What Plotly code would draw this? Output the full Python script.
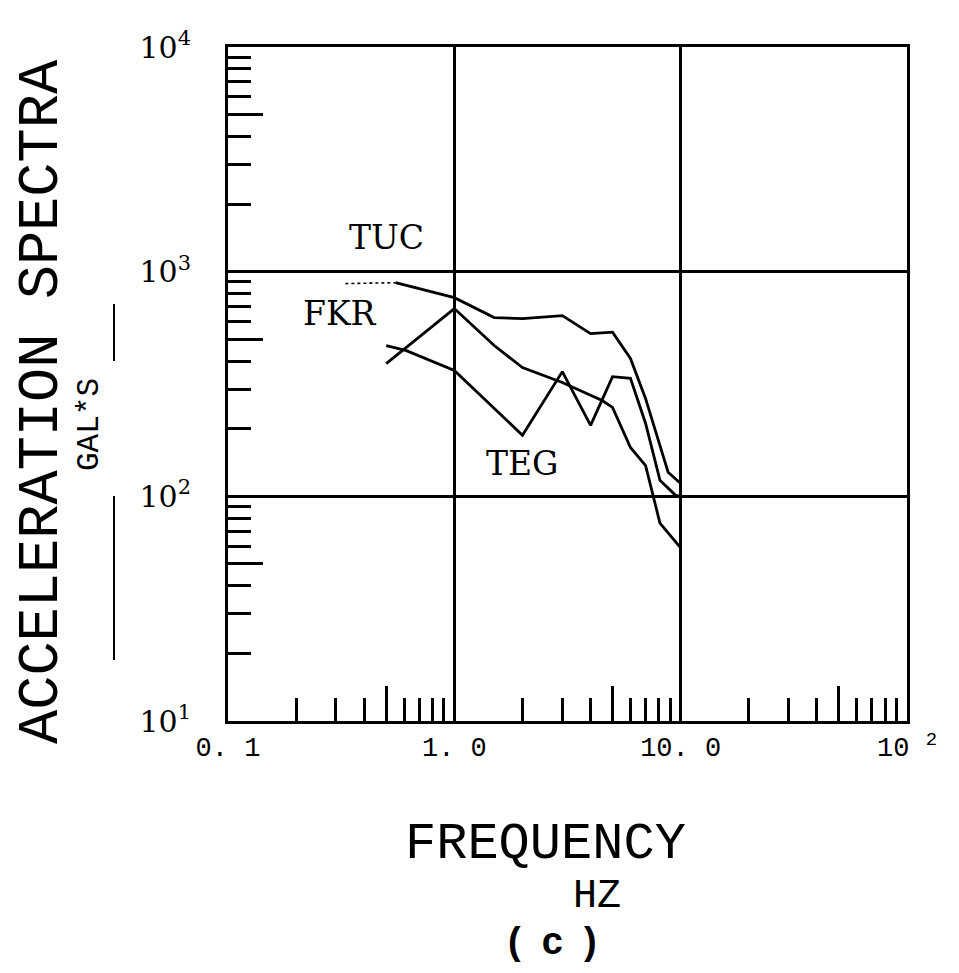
import numpy as np
import plotly.graph_objects as go

# ---------------- data ----------------
tuc_freq = [0.55, 1.0, 1.5, 2.0, 3.0, 4.0, 5.0, 6.0, 7.0, 8.8, 10.0]
tuc_vals = [893, 766, 625, 618, 637, 530, 538, 411, 272, 128, 114]
tuc_dot_freq = [0.33, 0.55]
tuc_dot_vals = [885, 893]

fkr_freq = [0.50, 1.0, 1.5, 2.0, 3.0, 4.5, 5.0, 6.0, 7.0, 8.1, 10.0]
fkr_vals = [390, 685, 469, 374, 321, 267, 249, 165, 137, 76, 59]

teg_freq = [0.50, 0.61, 1.0, 2.0, 3.0, 4.0, 5.0, 6.0, 7.0, 8.1, 9.5, 10.0]
teg_vals = [469, 446, 363, 187, 359, 207, 341, 335, 211, 118, 101, 100]

x_ticks = [0.1, 1.0, 10.0, 100.0]
x_ticktext = ["0. 1", "1. 0", "10. 0", "10 <sup>2</sup>"]
y_ticks = [10, 100, 1000, 10000]
y_ticktext = ["10<sup>1</sup>", "10<sup>2</sup>", "10<sup>3</sup>", "10<sup>4</sup>"]

labels = [("TUC", 0.50, 1420), ("FKR", 0.313, 650), ("TEG", 2.0, 140)]

# ---------------- layout helpers ----------------
W, H = 959, 973
L, R, T, B = 228, 907, 47, 721


def px_x(px):
    return (px - L) / (R - L)


def px_y(py):
    return (B - py) / (B - T)


decades_x = [0.1, 1, 10]
decades_y = [10, 100, 1000]
minor_x = [d * m for d in decades_x for m in (2, 3, 4, 6, 7, 8, 9)]
minor_y = [d * m for d in decades_y for m in (2, 3, 4, 6, 7, 8, 9)]
five_x = [d * 5 for d in decades_x]
five_y = [d * 5 for d in decades_y]

LW = 2.8
fig = go.Figure()

line_style = dict(color="black", width=LW)
fig.add_trace(go.Scatter(x=tuc_dot_freq, y=tuc_dot_vals, mode="lines",
                         line=dict(color="black", width=1.6, dash="dot"), showlegend=False))
for fx, fy in [(tuc_freq, tuc_vals), (fkr_freq, fkr_vals), (teg_freq, teg_vals)]:
    fig.add_trace(go.Scatter(x=fx, y=fy, mode="lines", line=line_style, showlegend=False))

# invisible trace for the overlay axes (long ticks at 5)
fig.add_trace(go.Scatter(x=[1], y=[100], xaxis="x2", yaxis="y2", mode="markers",
                         marker=dict(opacity=0), showlegend=False, hoverinfo="skip"))

tick_font = dict(family="Liberation Mono", size=27, color="black")
ytick_font = dict(family="DejaVu Serif", size=30, color="black")

fig.update_layout(
    width=W, height=H,
    margin=dict(l=L, r=W - R, t=T, b=H - B, pad=0),
    paper_bgcolor="white", plot_bgcolor="white",
    xaxis=dict(
        type="log", range=[-1, 2], tickvals=x_ticks, ticktext=x_ticktext,
        ticks="", showgrid=True, gridcolor="black", gridwidth=LW,
        showline=True, linecolor="black", linewidth=LW, mirror=True,
        zeroline=False, tickfont=tick_font, ticklabelstandoff=0,
        minor=dict(tickvals=minor_x, ticks="inside", ticklen=23, tickwidth=LW,
                   tickcolor="black", showgrid=False),
    ),
    yaxis=dict(
        type="log", range=[1, 4], tickvals=y_ticks, ticktext=y_ticktext,
        ticks="", showgrid=True, gridcolor="black", gridwidth=LW,
        showline=True, linecolor="black", linewidth=LW, mirror=True,
        zeroline=False, tickfont=ytick_font, ticklabelstandoff=28,
        minor=dict(tickvals=minor_y, ticks="inside", ticklen=23, tickwidth=LW,
                   tickcolor="black", showgrid=False),
    ),
    xaxis2=dict(
        type="log", range=[-1, 2], overlaying="x", anchor="y", side="bottom",
        tickvals=five_x, ticks="inside", ticklen=35, tickwidth=LW, tickcolor="black",
        showticklabels=False, showgrid=False, zeroline=False, showline=False,
    ),
    yaxis2=dict(
        type="log", range=[1, 4], overlaying="y", anchor="x", side="left",
        tickvals=five_y, ticks="inside", ticklen=35, tickwidth=LW, tickcolor="black",
        showticklabels=False, showgrid=False, zeroline=False, showline=False,
    ),
)

# curve labels
for txt, fx, fy in labels:
    fig.add_annotation(x=np.log10(fx), y=np.log10(fy), xref="x", yref="y", text=txt,
                       showarrow=False, xanchor="center", yanchor="middle",
                       font=dict(family="DejaVu Serif", size=33, color="black"))


def note(px, py, text, size, family="Liberation Mono", angle=0):
    fig.add_annotation(x=px_x(px), y=px_y(py), xref="paper", yref="paper",
                       text=text, textangle=angle, showarrow=False,
                       xanchor="center", yanchor="middle",
                       font=dict(family=family, size=size, color="black"))


# axis titles
note(42, 402, "ACCELERATION SPECTRA", 57, angle=-90)
note(90, 425, "GAL*S", 31, angle=-90)
note(545, 845, "FREQUENCY", 52)
note(597, 896, "HZ", 40)
note(552, 941, "<b>(&nbsp;&nbsp;c&nbsp;&nbsp;)</b>", 38, family="Liberation Sans")

# bars beside the y title
for y0, y1 in [(304, 361), (496, 660)]:
    fig.add_shape(type="line", xref="paper", yref="paper",
                  x0=px_x(114), x1=px_x(114), y0=px_y(y0), y1=px_y(y1),
                  line=dict(color="black", width=2))

fig.write_html("out.html")
